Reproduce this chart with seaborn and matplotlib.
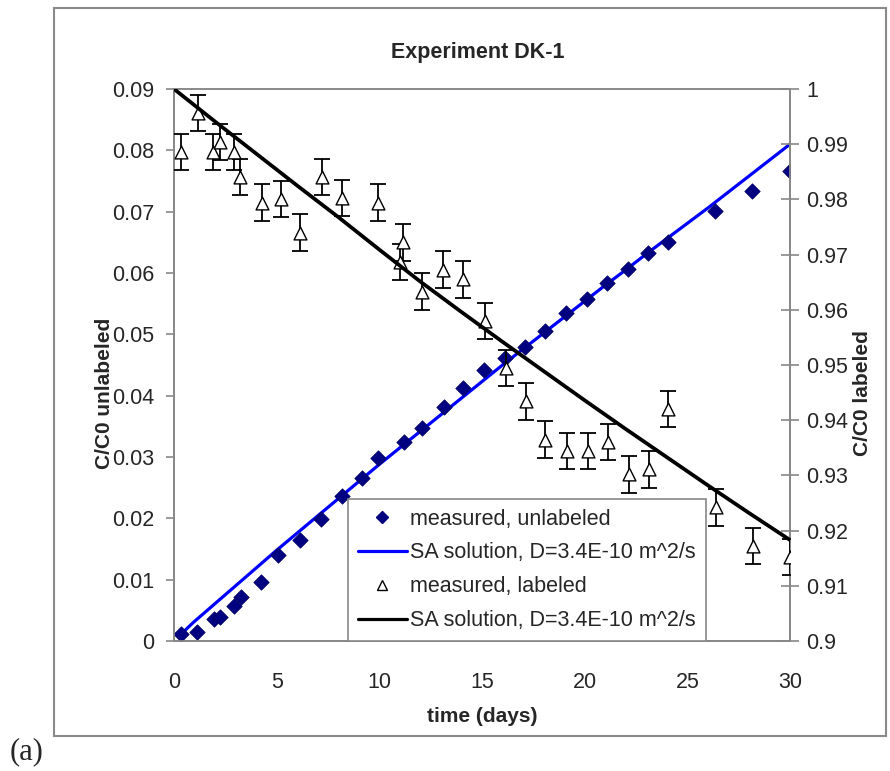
import numpy as np
import pandas as pd
import matplotlib
matplotlib.use("Agg")
import matplotlib.pyplot as plt
from matplotlib.patches import Rectangle
from matplotlib.lines import Line2D
import seaborn as sns

# ---------------- data ----------------
t_unlab = [0.34, 1.1, 1.95, 2.24, 2.92, 3.26, 4.24, 5.07, 6.14, 7.16, 8.18, 9.16, 9.94,
           11.2, 12.1, 13.15, 14.08, 15.1, 16.1, 17.1, 18.07, 19.09, 20.1, 21.1, 22.1,
           23.1, 24.06, 26.35, 28.15, 30.0]
c_unlab = [0.0012, 0.0015, 0.0036, 0.0039, 0.0057, 0.0071, 0.0096, 0.0140, 0.0164, 0.0199,
           0.0236, 0.0265, 0.0298, 0.0325, 0.0348, 0.0382, 0.0412, 0.0442, 0.0462, 0.0479,
           0.0506, 0.0535, 0.0558, 0.0583, 0.0607, 0.0632, 0.0651, 0.0701, 0.0733, 0.0767]

t_fit_unlab = [0.3, 1, 2, 3, 4, 5, 6, 7, 8, 9, 10, 11, 12, 13, 14, 15, 16, 17, 18, 19, 20,
               21, 22, 23, 24, 25, 26, 27, 28, 29, 30]
c_fit_unlab = [0.0010, 0.0032, 0.0061, 0.0090, 0.0119, 0.0148, 0.0176, 0.0204, 0.0232,
               0.0260, 0.0288, 0.0315, 0.0342, 0.0369, 0.0396, 0.0423, 0.0450, 0.0476,
               0.0502, 0.0528, 0.0554, 0.0580, 0.0605, 0.0631, 0.0656, 0.0681, 0.0706,
               0.0732, 0.0758, 0.0784, 0.0810]

t_lab = [0.34, 1.17, 1.9, 2.24, 2.92, 3.2, 4.3, 5.2, 6.14, 7.2, 8.2, 9.94, 11.15, 11.0,
         12.08, 13.1, 14.08, 15.15, 16.17, 17.15, 18.07, 19.14, 20.17, 21.14, 22.16,
         23.14, 24.06, 26.4, 28.2, 30.0]
c_lab = [0.9886, 0.9957, 0.9886, 0.9904, 0.9886, 0.9841, 0.9794, 0.9801, 0.9740, 0.9841,
         0.9803, 0.9794, 0.9722, 0.9687, 0.9633, 0.9673, 0.9655, 0.9580, 0.9495, 0.9434,
         0.9365, 0.9344, 0.9344, 0.9360, 0.9302, 0.9311, 0.9420, 0.9242, 0.9172, 0.9152]
err_lab = [0.0033] * len(t_lab)

t_fit_lab = [0, 2, 4, 6, 8, 10, 12, 14, 16, 18, 20, 22, 24, 26, 28, 30]
c_fit_lab = [1.0, 0.9941, 0.9883, 0.9825, 0.9768, 0.9709, 0.9651, 0.9596, 0.9542, 0.9489,
             0.9436, 0.9384, 0.9333, 0.9282, 0.9232, 0.9183]

x_ticks = [0, 5, 10, 15, 20, 25, 30]
y_left_ticks = [0, 0.01, 0.02, 0.03, 0.04, 0.05, 0.06, 0.07, 0.08, 0.09]
y_left_labels = ["0", "0.01", "0.02", "0.03", "0.04", "0.05", "0.06", "0.07", "0.08", "0.09"]
y_right_ticks = [0.9, 0.91, 0.92, 0.93, 0.94, 0.95, 0.96, 0.97, 0.98, 0.99, 1.0]
y_right_labels = ["0.9", "0.91", "0.92", "0.93", "0.94", "0.95", "0.96", "0.97", "0.98", "0.99", "1"]

title = "Experiment DK-1"
xlabel = "time (days)"
ylabel_left = "C/C0 unlabeled"
ylabel_right = "C/C0 labeled"
legend_labels = ["measured, unlabeled", "SA solution, D=3.4E-10 m^2/s",
                 "measured, labeled", "SA solution, D=3.4E-10 m^2/s"]

# ---------------- style ----------------
sns.set_theme(style="white")
plt.rcParams["font.family"] = ["Liberation Sans", "DejaVu Sans"]
FS = 15.5
LFS = 15
GRAY = "#888888"

W, H = 890, 771
fig = plt.figure(figsize=(W / 100, H / 100), dpi=100)
fig.patch.set_facecolor("white")

# outer chart border
fig.patches.append(Rectangle((54 / W, 1 - 736 / H), (886 - 54) / W, (736 - 8) / H,
                             transform=fig.transFigure, fill=False,
                             edgecolor="#8a8a8a", linewidth=1.5))
fig.text(10 / W, 1 - 752 / H, "(a)", fontsize=22, family=["Liberation Serif"],
         ha="left", va="center")

ax = fig.add_axes([174 / W, 1 - 641 / H, 616 / W, 552 / H])
ax2 = ax.twinx()

df_unlab = pd.DataFrame({"t": t_unlab, "c": c_unlab})
df_fit_unlab = pd.DataFrame({"t": t_fit_unlab, "c": c_fit_unlab})
df_lab = pd.DataFrame({"t": t_lab, "c": c_lab, "e": err_lab})
df_fit_lab = pd.DataFrame({"t": t_fit_lab, "c": c_fit_lab})

sns.lineplot(data=df_fit_unlab, x="t", y="c", ax=ax, color="#0000ff", lw=2.3, zorder=2)
sns.scatterplot(data=df_unlab, x="t", y="c", ax=ax, marker="D", s=62,
                color="#000080", edgecolor="#000060", linewidth=0.5, zorder=3)

ax2.errorbar(df_lab["t"], df_lab["c"], yerr=df_lab["e"], fmt="none", ecolor="black",
             elinewidth=1.3, capsize=5.5, capthick=1.3, zorder=3)
sns.scatterplot(data=df_lab, x="t", y="c", ax=ax2, marker="^", s=85,
                facecolor="white", edgecolor="black", linewidth=1.0, zorder=4)
sns.lineplot(data=df_fit_lab, x="t", y="c", ax=ax2, color="black", lw=2.7, zorder=5)

ax.set_xlim(0, 30)
ax.set_ylim(0, 0.09)
ax2.set_ylim(0.9, 1.0)
ax.set_xticks(x_ticks)
ax.set_xticklabels([str(v) for v in x_ticks])
ax.set_yticks(y_left_ticks)
ax.set_yticklabels(y_left_labels)
ax2.set_yticks(y_right_ticks)
ax2.set_yticklabels(y_right_labels)

for a in (ax, ax2):
    for s in a.spines.values():
        s.set_color(GRAY)
        s.set_linewidth(1.3)
    a.grid(False)
ax.spines["top"].set_color("#b0b0b0")

ax.tick_params(axis="y", direction="out", length=6, width=1.2, color=GRAY,
               labelsize=FS, pad=8)
ax.tick_params(axis="x", direction="out", length=6, width=1.2, color=GRAY,
               labelsize=FS, pad=16)
ax2.tick_params(axis="y", direction="inout", length=13, width=1.2, color=GRAY,
                labelsize=FS, pad=5)

ax.set_xlabel(xlabel, fontsize=LFS, fontweight="bold")
ax.set_ylabel(ylabel_left, fontsize=LFS, fontweight="bold")
ax2.set_ylabel(ylabel_right, fontsize=LFS, fontweight="bold")
ax.xaxis.set_label_coords(0.5, (641 - 717) / 552)
ax.xaxis.label.set_va("center")
ax.yaxis.set_label_coords((105 - 174) / 616, (641 - 393) / 552)
ax.yaxis.label.set_va("center")
ax2.yaxis.set_label_coords((862 - 174) / 616, (641 - 393) / 552)
ax2.yaxis.label.set_va("center")
ax2.yaxis.label.set_rotation(90)

ax.set_title(title, fontsize=15.5, fontweight="bold", y=(641 - 61) / 552, va="center",
             x=(478 - 174) / 616)

handles = [
    Line2D([], [], marker="D", ls="none", color="#000080", markersize=6.5),
    Line2D([], [], color="#0000ff", lw=2.3),
    Line2D([], [], marker="^", ls="none", markerfacecolor="white",
           markeredgecolor="black", markersize=7),
    Line2D([], [], color="black", lw=2.3),
]
leg = ax2.legend(handles, legend_labels, loc="lower left",
                 bbox_to_anchor=((348 - 174) / 616, 0.0), fontsize=FS,
                 frameon=True, fancybox=False, framealpha=1, edgecolor=GRAY,
                 handlelength=2.3, handletextpad=0.15, labelspacing=0.6,
                 borderpad=0.45, borderaxespad=0.0)
leg.get_frame().set_linewidth(1.2)
leg.set_zorder(10)

fig.savefig("out.png", dpi=100, facecolor="white")
